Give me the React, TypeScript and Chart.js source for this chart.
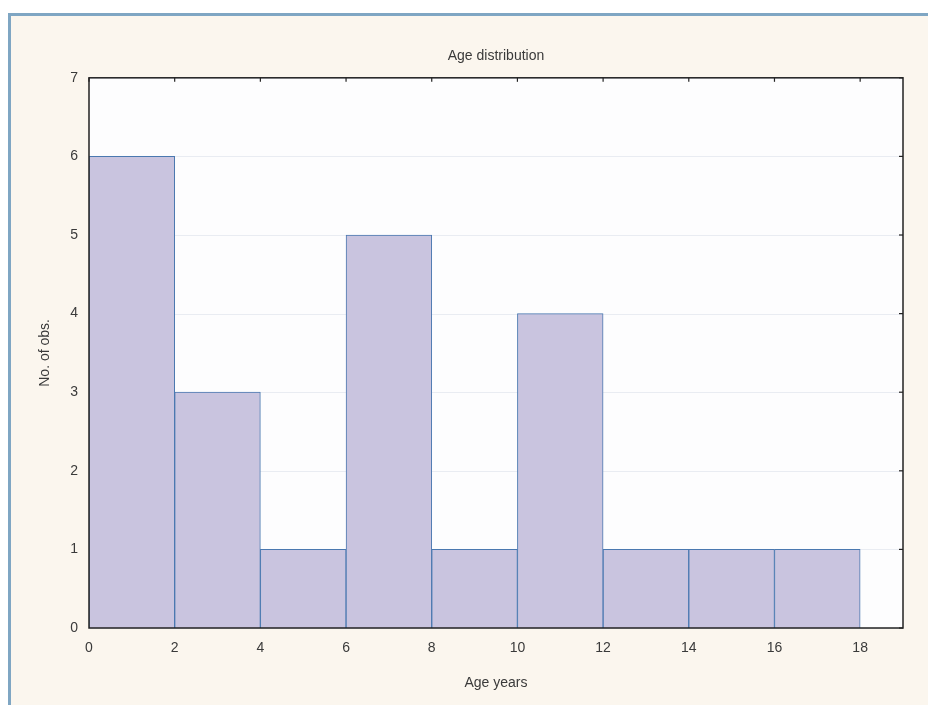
import React, { useEffect, useRef } from "react";
import { Chart, registerables } from "chart.js";

Chart.register(...registerables);

const binStarts = [0, 2, 4, 6, 8, 10, 12, 14, 16];
const binWidth = 2;
const counts = [6, 3, 1, 5, 1, 4, 1, 1, 1];
const xTicks = [0, 2, 4, 6, 8, 10, 12, 14, 16, 18];
const yTicks = [0, 1, 2, 3, 4, 5, 6, 7];
const titleText = "Age distribution";
const xTitle = "Age years";
const yTitle = "No. of obs.";

const FONT = "'Liberation Sans', Arial, sans-serif";
const TEXT = "#3a3a3a";

const framePlugin = {
  id: "frame",
  beforeDatasetsDraw(chart: any) {
    const { ctx, chartArea: a } = chart;
    ctx.save();
    ctx.fillStyle = "#fdfdfe";
    ctx.fillRect(a.left, a.top, a.right - a.left, a.bottom - a.top);
    const ys = chart.scales.y;
    ctx.strokeStyle = "#e9ecf2";
    ctx.lineWidth = 1;
    for (const v of yTicks) {
      const y = Math.round(ys.getPixelForValue(v)) + 0.5;
      ctx.beginPath();
      ctx.moveTo(a.left, y);
      ctx.lineTo(a.right, y);
      ctx.stroke();
    }
    ctx.restore();
  },
  afterDraw(chart: any) {
    const { ctx, chartArea: a } = chart;
    const xs = chart.scales.x;
    const ys = chart.scales.y;
    ctx.save();
    ctx.strokeStyle = "#222";
    ctx.lineWidth = 1.5;
    ctx.strokeRect(a.left, a.top, a.right - a.left, a.bottom - a.top);
    ctx.lineWidth = 1.2;
    for (const v of xTicks) {
      const x = xs.getPixelForValue(v);
      ctx.beginPath();
      ctx.moveTo(x, a.top);
      ctx.lineTo(x, a.top + 4);
      ctx.stroke();
    }
    for (const v of yTicks) {
      const y = ys.getPixelForValue(v);
      ctx.beginPath();
      ctx.moveTo(a.right, y);
      ctx.lineTo(a.right - 4, y);
      ctx.stroke();
    }
    ctx.restore();
  },
};

export default function App() {
  const ref = useRef<HTMLCanvasElement>(null);
  useEffect(() => {
    const canvas = ref.current!;
    const chart = new Chart(canvas, {
      type: "bar",
      data: {
        datasets: [
          {
            label: "No. of obs.",
            data: binStarts.map((s, i) => ({ x: s + binWidth / 2, y: counts[i] })),
            backgroundColor: "#c9c4df",
            borderColor: "#4a78b0",
            borderWidth: 1,
            barPercentage: 1,
            categoryPercentage: 1,
          },
        ],
      },
      options: {
        responsive: false,
        animation: false,
        layout: { padding: { top: 40, right: 25, left: 0, bottom: 0 } },
        plugins: {
          legend: { display: false },
          tooltip: { enabled: false },
          title: {
            display: true,
            fullSize: false,
            text: titleText,
            color: TEXT,
            font: { family: FONT, size: 14, weight: "normal" },
            padding: { top: 8, bottom: 13 },
          },
        },
        scales: {
          x: {
            type: "linear",
            min: 0,
            max: 19,
            offset: false,
            afterBuildTicks: (s: any) => {
              s.ticks = xTicks.map((v) => ({ value: v }));
            },
            afterFit: (s: any) => {
              s.height = 77;
            },
            grid: { display: false, drawTicks: false, offset: false },
            border: { display: false },
            ticks: {
              color: TEXT,
              font: { family: FONT, size: 14 },
              padding: 12,
              maxRotation: 0,
              autoSkip: false,
            },
            title: {
              display: true,
              text: xTitle,
              color: TEXT,
              font: { family: FONT, size: 14 },
              padding: { top: 0, bottom: 13 },
            },
          },
          y: {
            min: 0,
            max: 7,
            afterBuildTicks: (s: any) => {
              s.ticks = yTicks.map((v) => ({ value: v }));
            },
            afterFit: (s: any) => {
              s.width = 89;
            },
            grid: { display: false, drawTicks: false },
            border: { display: false },
            ticks: {
              color: TEXT,
              font: { family: FONT, size: 14 },
              padding: 11,
              autoSkip: false,
            },
            title: {
              display: true,
              text: yTitle,
              color: TEXT,
              font: { family: FONT, size: 14 },
              padding: { top: 37, bottom: 0 },
            },
          },
        },
      } as any,
      plugins: [framePlugin],
    });
    return () => chart.destroy();
  }, []);

  return (
    <div style={{ position: "absolute", left: 0, top: 0, width: 928, height: 705, background: "#fff", overflow: "hidden" }}>
      <div
        style={{
          position: "absolute",
          left: 8,
          top: 13,
          right: -10,
          bottom: -10,
          borderLeft: "3px solid #7fa6c3",
          borderTop: "3px solid #7fa6c3",
          background: "#fbf6ee",
        }}
      />
      <canvas ref={ref} width={928} height={705} style={{ position: "absolute", left: 0, top: 0 }} />
    </div>
  );
}
